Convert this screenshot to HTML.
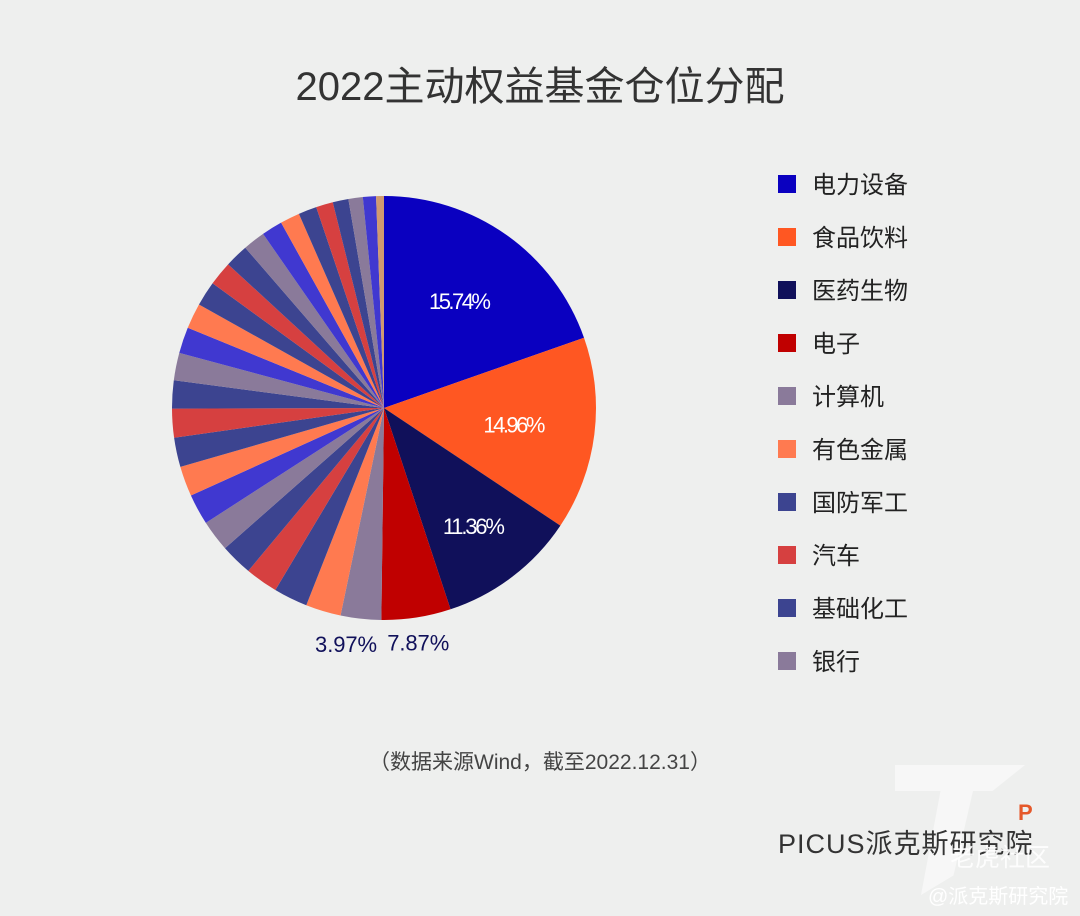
<!DOCTYPE html>
<html><head><meta charset="utf-8"><style>
body{margin:0;background:#eeefee;font-family:"Liberation Sans","Noto Sans CJK SC",sans-serif;}
#wrap{position:relative;width:1080px;height:916px;overflow:hidden;background:#eeefee}
.t{position:absolute;white-space:nowrap}
</style></head><body>
<div id="wrap">
<div class="t" style="left:895px;top:765px;width:130px;height:130px;background:#f7f7f7;clip-path:polygon(0 0,100% 0,75% 20%,60% 20%,45% 85%,20% 100%,35% 20%,0 20%);"></div>
<div class="t" style="left:0;width:1080px;text-align:center;top:54px;font-size:40px;color:#333">2022主动权益基金仓位分配</div>
<svg id="pie" width="1080" height="916" style="position:absolute;left:0;top:0"></svg>
<div class="t" style="left:0;width:1080px;text-align:center;top:746px;font-size:21px;color:#444">（数据来源Wind，截至2022.12.31）</div>
<div class="t" style="left:778px;top:822px;font-size:27px;color:#333;letter-spacing:1px">PICUS派克斯研究院</div>
<div class="t" style="left:1018px;top:800px;font-size:22px;color:#e5582a;font-weight:bold">P</div>
<div class="t" style="left:950px;top:838px;font-size:25px;color:#fff;opacity:.9">老虎社区</div>
<div class="t" style="left:928px;top:880px;font-size:20px;color:#fff">@派克斯研究院</div>
</div>
<script>
const categories=["电力设备","食品饮料","医药生物","电子","计算机","有色金属","国防军工","汽车","基础化工","银行"];
const values=[19.7,14.8,10.6,5.3,3.1,2.7,2.6,2.5,2.45,2.4,2.35,2.3,2.25,2.2,2.15,2.1,2.0,1.95,1.9,1.85,1.8,1.7,1.6,1.5,1.4,1.3,1.2,1.1,1.0,0.6];
const labels=["15.74%","14.96%","11.36%","7.87%","3.97%"];
const base=["#0a00c0","#ff5722","#10105a","#c00000","#8a7a9a"];
const cyc=["#ff7a50","#3c4490","#d64040","#3c4490","#8a7a9a","#4038d0"];
const svg=document.getElementById('pie');const NS="http://www.w3.org/2000/svg";
const cx=384,cy=408,r=212;
const total=values.reduce((a,b)=>a+b,0);
function pt(a,rr){return [cx+rr*Math.sin(a),cy-rr*Math.cos(a)];}
const labelShift=[0,0,0,-2,-12];
let acc=0;
values.forEach((v,i)=>{
 const a0=acc/total*2*Math.PI;acc+=v;const a1=acc/total*2*Math.PI;
 const p0=pt(a0,r),p1=pt(a1,r);
 let col=i<5?base[i]:(i==values.length-1?"#d09a70":cyc[(i-5)%6]);
 const p=document.createElementNS(NS,'path');
 p.setAttribute('d',`M${cx},${cy}L${p0[0]},${p0[1]}A${r},${r} 0 ${a1-a0>Math.PI?1:0} 1 ${p1[0]},${p1[1]}Z`);
 p.setAttribute('fill',col);
 
 
 svg.appendChild(p);
 if(i<5){
  const am=(a0+a1)/2;const inside=i<3;const rr=inside?r*(i==2?0.7:0.62):r*1.12;
  const q=pt(am,rr);
  const t=document.createElementNS(NS,'text');
  t.setAttribute('x',q[0]+labelShift[i]);t.setAttribute('y',q[1]+8);t.setAttribute('text-anchor','middle');
  t.setAttribute('font-size','22');t.setAttribute('fill',inside?'#fff':'#10105a');
  t.setAttribute('font-family','Liberation Sans, sans-serif');
  t.setAttribute('textLength','62');
  t.textContent=labels[i];
  
  
  svg.appendChild(t);
 }
});
const legCols=["#0a00c0","#ff5722","#10105a","#c00000","#8a7a9a","#ff7a50","#3c4490","#d64040","#3c4490","#8a7a9a"];
categories.forEach((c,i)=>{
 const y=184+i*53;
 const s=document.createElementNS(NS,'rect');
 s.setAttribute('x',778);s.setAttribute('y',y-9);s.setAttribute('width',18);s.setAttribute('height',18);s.setAttribute('fill',legCols[i]);
 
 
 svg.appendChild(s);
 const t=document.createElementNS(NS,'text');
 t.setAttribute('x',812);t.setAttribute('y',y+9);t.setAttribute('font-size','24');t.setAttribute('fill','#222');
 t.setAttribute('font-family','Liberation Sans, Noto Sans CJK SC, sans-serif');
 t.textContent=c;
 
 
 svg.appendChild(t);
});
</script>
</body></html>
